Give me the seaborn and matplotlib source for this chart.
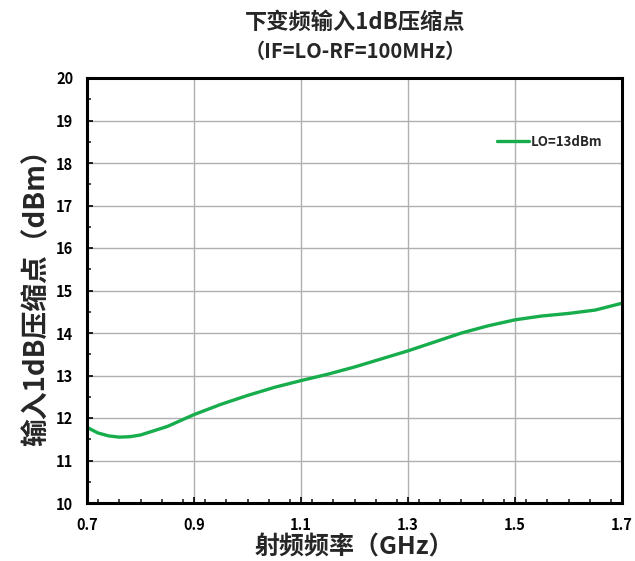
import matplotlib
matplotlib.use("Agg")
import matplotlib.pyplot as plt
from matplotlib.ticker import MultipleLocator
import seaborn as sns
import pandas as pd

freq_ghz = [0.70, 0.72, 0.74, 0.76, 0.78, 0.80, 0.85, 0.90, 0.95, 1.00, 1.05, 1.10,
            1.15, 1.20, 1.25, 1.30, 1.35, 1.40, 1.45, 1.50, 1.55, 1.60, 1.65, 1.70]
p1db_dbm = [11.78, 11.65, 11.58, 11.55, 11.56, 11.60, 11.80, 12.08, 12.32, 12.53, 12.72, 12.88,
            13.03, 13.20, 13.39, 13.58, 13.79, 14.00, 14.17, 14.31, 14.40, 14.46, 14.54, 14.70]
series_name = "LO=13dBm"
x_ticks = [0.7, 0.9, 1.1, 1.3, 1.5, 1.7]
x_tick_labels = ["0.7", "0.9", "1.1", "1.3", "1.5", "1.7"]
y_ticks = list(range(10, 21))

sns.set_theme(style="white")
plt.rcParams['font.family'] = ['Noto Sans CJK SC', 'DejaVu Sans']

df = pd.DataFrame({"freq": freq_ghz, "p1db": p1db_dbm, "series": series_name})

fig = plt.figure(figsize=(6.35, 5.61), dpi=100)
ax = fig.add_axes([87/635, 1-503/561, (622-87)/635, (503-78)/561])

sns.lineplot(data=df, x="freq", y="p1db", hue="series", palette=["#17ad4d"],
             linewidth=2.4, ax=ax)

ax.set_xlim(0.7, 1.7)
ax.set_ylim(10, 20)
ax.set_xticks(x_ticks)
ax.set_xticklabels(x_tick_labels)
ax.set_yticks(y_ticks)
ax.xaxis.set_minor_locator(MultipleLocator(0.04))
ax.yaxis.set_minor_locator(MultipleLocator(0.5))
ax.grid(True, which="major", color="#b0b0b0", linewidth=1.0)
ax.tick_params(axis="both", which="major", direction="in", length=4, width=1.2,
               labelsize=10.5, pad=10, colors="black", bottom=True, left=True)
ax.tick_params(axis="both", which="minor", direction="in", length=3, width=1.2,
               bottom=True, left=True)
for lbl in ax.get_xticklabels() + ax.get_yticklabels():
    lbl.set_fontweight("bold")
for s in ax.spines.values():
    s.set_color("black")
    s.set_linewidth(2.2)

ax.set_xlabel("射频频率（GHz）", fontsize=18, fontweight="bold", labelpad=2)
ax.set_ylabel("输入1dB压缩点（dBm）", fontsize=20, fontweight="bold", labelpad=4)

fig.text(355/635, 1-22/561, "下变频输入1dB压缩点", ha="center", va="center",
         fontsize=16, fontweight="bold")
fig.text(355/635, 1-51/561, "（IF=LO-RF=100MHz）", ha="center", va="center",
         fontsize=14.5, fontweight="bold")

leg = ax.legend(loc="upper right", bbox_to_anchor=(0.985, 0.895), frameon=False,
                fontsize=9.5, handlelength=2.4, handletextpad=0.1)
for t in leg.get_texts():
    t.set_fontweight("bold")

fig.savefig("out.png", dpi=100, facecolor="white")
